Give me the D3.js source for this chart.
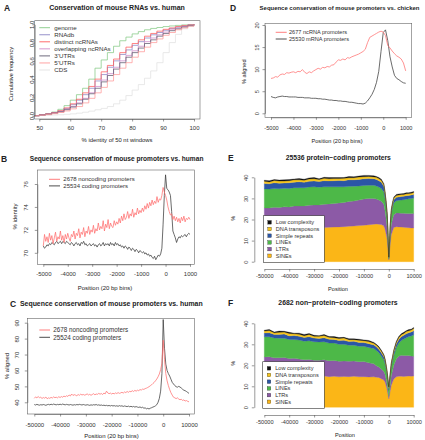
<!DOCTYPE html>
<html><head><meta charset="utf-8">
<script src="https://cdn.jsdelivr.net/npm/d3@7"></script>
<style>body{margin:0;background:#fff}svg{display:block}</style>
</head><body><svg id="chart" width="425" height="440"></svg>
<script>
// ---------------- DATA ----------------
// Panel A: cumulative frequency vs % identity of 50 nt windows
const identA = [48,50,52,54,56,58,60,62,64,66,68,70,72,74,76,78,80,82,84,86,88,90,92,94,96,98,100];
const namesA = ["genome","RNAdb","distinct ncRNAs","overlapping ncRNAs","3'UTRs","5'UTRs","CDS"];
const colorsA = ["#86c986","#8a84c4","#ff5c5c","#d08ac8","#5e5a6e","#ff9a9a","#e2e2e2"];
const genomeA = [0,0.01,0.02,0.04,0.07,0.11,0.17,0.23,0.30,0.40,0.52,0.61,0.69,0.76,0.82,0.86,0.895,0.92,0.94,0.955,0.965,0.975,0.982,0.988,0.993,0.997,1.0];
const rnadbA = [0,0.01,0.02,0.035,0.05,0.08,0.12,0.17,0.23,0.30,0.38,0.45,0.53,0.60,0.67,0.72,0.77,0.81,0.85,0.885,0.91,0.935,0.955,0.97,0.982,0.992,1];
const distinctA = [0,0.01,0.02,0.035,0.055,0.085,0.13,0.18,0.25,0.32,0.40,0.48,0.55,0.62,0.69,0.75,0.79,0.83,0.87,0.90,0.925,0.945,0.96,0.975,0.985,0.993,1];
const overlapA = [0,0.008,0.016,0.03,0.045,0.07,0.10,0.14,0.19,0.25,0.32,0.39,0.46,0.53,0.60,0.66,0.71,0.76,0.81,0.85,0.885,0.915,0.94,0.96,0.975,0.99,1];
const utr3A = [0,0.008,0.016,0.028,0.042,0.065,0.095,0.13,0.18,0.24,0.30,0.37,0.44,0.51,0.58,0.64,0.69,0.74,0.79,0.83,0.87,0.90,0.93,0.95,0.97,0.985,1];
const utr5A = [0,0.006,0.012,0.022,0.035,0.052,0.075,0.10,0.14,0.19,0.25,0.31,0.38,0.45,0.52,0.58,0.64,0.70,0.75,0.80,0.84,0.88,0.91,0.94,0.96,0.98,1];
const cdsA = [0,0.002,0.004,0.007,0.01,0.015,0.02,0.028,0.038,0.05,0.065,0.08,0.10,0.13,0.17,0.22,0.28,0.34,0.41,0.49,0.58,0.69,0.80,0.89,0.95,0.98,1];
const ticksAx = [50,60,70,80,90,100];
const ticksAy = [0,0.2,0.4,0.6,0.8,1.0];

// Panel B: % identity, -5000..1000 (50 bp steps)
const posB = d3.range(-5000, 1001, 50);
const noncodingB = [70.6,71.6,71.0,71.4,70.9,71.7,71.1,71.5,70.8,71.3,71.8,71.0,71.4,71.2,71.9,71.1,71.5,70.9,71.6,71.2,71.7,
 71.3,71.0,71.6,71.4,71.9,71.2,71.7,71.5,72.1,71.3,71.8,71.6,72.2,71.4,71.9,71.7,72.3,71.6,72.0,71.8,
 72.4,71.7,72.1,71.9,72.6,72.0,72.3,72.1,72.8,71.9,72.5,72.2,72.9,72.1,72.6,72.3,72.2,72.8,72.4,72.7,
 72.5,73.0,72.6,73.2,72.8,73.4,72.9,73.1,73.6,73.0,73.4,73.2,73.8,73.1,73.5,73.3,73.9,73.4,73.7,73.5,
 73.9,73.6,74.1,73.8,74.3,73.9,74.4,74.1,74.6,74.2,74.5,74.3,74.9,74.4,74.7,74.6,75.0,75.7,
 75.3,75.0,74.6,74.0,73.6,73.3,73.4,72.9,73.2,72.8,73.1,72.7,73.0,72.6,73.1,72.8,73.2,72.7,73.0,72.9,73.1,72.9];
const codingB = [70.6,70.4,70.5,70.7,70.6,70.8,70.7,70.9,70.8,70.7,70.9,71.0,70.8,70.9,71.0,70.8,71.0,70.9,70.8,71.0,70.9,
 70.8,70.7,70.9,70.8,70.6,70.8,70.9,70.7,70.8,70.6,70.9,70.8,71.0,70.7,70.8,70.6,70.7,70.8,70.6,70.7,
 70.8,70.6,70.7,70.5,70.7,70.8,70.6,70.7,70.9,70.6,70.8,70.7,70.8,70.6,70.9,70.7,70.8,70.6,70.9,70.7,
 70.8,70.6,70.7,70.5,70.6,70.4,70.6,70.5,70.3,70.5,70.4,70.2,70.4,70.3,70.1,70.3,70.2,70.0,70.2,70.1,
 70.0,70.1,69.9,70.0,69.8,69.9,69.7,69.8,69.6,69.5,69.7,69.4,69.6,69.8,69.7,69.9,70.4,72.5,
 75.0,76.8,75.6,75.5,75.3,75.0,73.6,71.9,71.6,71.3,70.9,71.2,71.4,71.3,71.5,71.4,71.5,71.6,71.4,71.6,71.7,71.6];
const ticksBx = [-5000,-4000,-3000,-2000,-1000,0,1000];
const ticksBy = [70,72,74,76];

// Panel C: % aligned, -50000..10000 (500 bp steps)
const posC = d3.range(-50000, 10001, 500);
const noncodingC = [42.5,43.4,42.8,43.6,42.9,43.2,42.4,43.0,42.6,43.3,42.2,42.8,42.5,43.1,42.7,43.4,42.9,43.2,42.8,43.5,
 43.0,43.6,43.2,43.9,43.5,44.1,43.7,44.6,44.0,45.2,44.3,44.8,44.5,44.1,44.9,44.4,45.1,44.6,44.9,44.5,
 44.8,45.3,44.6,45.0,44.4,44.9,45.4,44.7,45.2,45.0,45.6,45.1,45.5,44.9,45.8,45.3,47.0,45.9,45.4,45.8,
 45.2,45.7,45.3,45.9,45.5,46.1,45.6,45.9,46.3,45.8,46.5,46.1,46.8,46.3,46.9,46.6,47.3,46.8,47.5,47.0,
 47.6,47.3,48.0,47.7,48.3,48.1,48.6,48.9,49.3,49.8,50.4,51.0,51.8,52.5,53.5,54.6,56.0,57.8,60.5,64.5,
 79.0,
 67.0,58.0,53.5,50.5,48.0,46.0,44.5,43.2,42.8,42.3,42.8,42.1,41.6,41.9,41.2,41.5,40.8,41.1,40.6,40.3];
const codingC = [38.6,38.3,38.7,38.4,38.2,38.5,38.3,38.6,38.4,38.1,38.5,38.7,38.4,38.8,38.5,38.9,38.6,38.4,38.7,38.5,
 38.8,38.5,38.9,38.6,38.4,38.7,38.5,38.3,38.6,38.4,38.2,38.5,38.3,38.6,38.4,38.7,38.5,38.3,38.6,38.4,
 38.2,38.5,38.3,38.1,38.4,38.2,38.5,38.3,38.6,38.2,38.4,38.1,38.3,38.0,38.2,37.9,38.1,37.8,38.0,37.7,
 38.0,37.7,37.9,37.6,37.8,37.5,37.9,37.6,37.8,37.4,37.7,37.5,37.3,37.6,37.2,37.5,37.1,37.4,37.0,37.3,
 37.0,36.8,37.1,36.6,36.9,36.3,36.5,35.9,36.2,35.8,36.3,36.6,37.0,37.3,37.8,38.5,40.0,42.5,47.0,58.0,
 92.0,
 74.0,64.0,60.0,58.0,56.5,54.5,52.5,51.5,50.5,49.8,49.5,50.0,49.6,49.0,48.2,47.6,47.3,46.8,46.2,45.6];
const ticksCx = [-50000,-40000,-30000,-20000,-10000,0,10000];
const ticksCy = [40,50,60,70,80,90];

// Panel D: % aligned vs chicken, -5000..1000 (100 bp steps)
const posD = d3.range(-5000, 1001, 100);
const ncrnaD = [7.9,8.0,8.3,8.2,8.7,8.9,8.8,9.2,9.1,9.3,9.4,
 9.2,9.5,9.4,9.9,9.3,9.0,9.4,9.2,9.6,9.9,
 10.2,10.0,10.4,10.3,10.6,10.5,10.9,11.0,11.6,12.1,
 12.0,12.3,12.1,12.6,12.5,12.8,13.0,13.2,13.4,13.7,
 14.0,14.5,16.0,17.2,17.5,17.8,18.1,18.4,18.6,18.4,
 17.6,15.4,14.8,14.1,13.5,13.0,12.7,12.3,11.4,9.6];
const mrnaD = [3.8,3.6,3.5,3.7,3.8,3.9,3.8,3.8,3.7,3.7,3.7,
 3.7,3.6,3.6,3.6,3.5,3.5,3.5,3.4,3.4,3.4,
 3.3,3.3,3.2,3.2,3.1,3.0,3.0,2.9,2.9,2.8,
 2.8,2.7,2.7,2.6,2.5,2.5,2.4,2.3,2.2,2.2,
 2.1,2.3,2.8,3.5,4.3,5.4,7.0,9.5,14.0,18.3,
 18.9,16.5,12.8,10.5,8.6,7.9,7.6,7.2,6.9,6.8];
const ticksDx = [-5000,-4000,-3000,-2000,-1000,0,1000];
const ticksDy = [0,5,10,15,20];

// Panels E/F: repeat composition (%), stacked
const posEF = [-50000,-48000,-46000,-44000,-42000,-40000,-38000,-36000,-34000,-32000,-30000,-28000,-26000,-24000,-22000,-20000,-18000,-16000,-14000,-12000,-10000,-8000,-6000,-5000,-4000,-3000,-2000,-1500,-1000,-600,-300,0,300,600,1000,1500,2000,3000,4000,5000,6000,7000,8000,9000,10000];
const repeatKeys = ["SINEs","LTRs","LINEs","Simple repeats","DNA transposons","Low complexity"];
const repeatColors = ["#fbb617","#8c5aa6","#4db848","#2b56a6","#f6c51d","#111111"];
const sinesE = [16.2,16.0,16.3,16.1,16.2,16.0,16.3,16.1,16.0,16.2,16.1,16.0,16.2,16.3,16.4,16.5,16.6,16.8,16.9,17.1,17.3,17.5,17.8,17.9,17.8,17.6,17.0,15.4,12.8,10.0,5.5,0.8,4.5,9.0,12.8,14.5,16.2,16.6,16.5,16.4,16.3,16.2,16.1,16.0,16.0];
const ltrsE = [9.3,9.4,9.5,9.6,9.8,9.9,10.1,10.3,10.4,10.6,10.8,10.9,11.0,11.1,11.2,11.3,11.5,11.7,11.9,12.1,12.4,12.5,12.2,11.8,11.4,11.0,10.2,8.7,7.0,5.5,2.8,0.4,2.0,3.6,4.8,5.6,6.0,6.5,6.6,6.6,6.7,6.7,6.8,6.8,6.9];
const linesE = [9.0,9.0,8.9,8.9,8.8,8.8,8.7,8.7,8.6,8.6,8.6,8.4,8.3,8.1,7.9,7.7,7.4,7.2,7.0,6.7,6.4,6.2,6.2,6.2,6.2,6.1,5.9,5.6,5.0,4.2,2.8,0.5,1.8,3.6,4.8,5.4,5.6,5.8,6.0,6.2,6.4,6.7,6.9,7.1,7.3];
const simpleE = [2.6,2.5,2.7,2.6,2.5,2.7,2.6,2.8,2.6,2.7,2.8,2.7,2.9,2.8,2.9,3.0,2.9,3.1,3.0,3.1,3.2,3.2,3.1,3.1,3.0,3.0,2.7,2.4,2.0,1.6,1.0,0.3,0.8,1.2,1.4,1.5,1.6,1.7,1.6,1.7,1.6,1.7,1.6,1.7,1.7];
const dnaE = [1.0,0.9,1.1,1.0,0.9,1.0,1.1,0.9,1.0,1.1,1.0,0.9,1.1,1.0,1.0,0.9,1.1,1.0,1.0,1.1,1.0,1.0,0.9,1.0,1.0,0.9,0.8,0.7,0.6,0.5,0.4,0.1,0.3,0.5,0.6,0.7,0.8,0.8,0.9,0.9,0.8,0.9,0.9,0.8,0.9];
const lowE = [0.5,0.6,0.4,0.5,0.6,0.5,0.4,0.6,0.5,0.5,0.6,0.4,0.5,0.6,0.5,0.5,0.4,0.6,0.5,0.5,0.6,0.5,0.5,0.4,0.5,0.5,0.4,0.4,0.4,0.3,0.2,0.1,0.2,0.3,0.4,0.4,0.4,0.5,0.5,0.4,0.5,0.5,0.4,0.5,0.5];
const sinesF = [14.6,14.8,14.5,14.7,14.9,14.6,14.8,14.7,14.5,14.8,14.6,14.7,14.9,14.6,14.8,14.5,14.7,14.6,14.8,14.5,14.6,14.4,14.5,14.3,14.2,13.6,13.0,12.0,10.0,8.0,6.0,4.0,6.0,8.0,10.5,12.0,13.5,14.5,14.8,14.8,14.7,14.8,14.9,14.8,14.9];
const ltrsF = [9.4,9.3,9.1,8.9,8.8,8.6,8.5,8.3,8.1,8.0,7.8,7.7,7.7,7.6,7.5,7.4,7.4,7.3,7.3,7.2,7.2,6.8,6.2,5.5,5.0,4.6,4.0,3.6,3.0,2.4,1.8,1.2,2.2,3.0,4.5,5.5,6.5,8.5,9.5,10.0,10.0,9.9,9.8,9.6,9.4];
const linesF = [9.6,9.5,9.4,9.3,9.2,9.1,9.0,9.0,8.9,8.9,8.8,8.7,8.6,8.4,8.3,8.1,7.9,7.7,7.5,7.4,7.3,7.3,7.3,7.3,6.9,6.2,5.6,5.0,4.6,4.0,3.5,3.0,3.2,3.5,4.0,4.3,4.6,5.5,6.3,7.0,7.8,8.4,9.0,9.6,10.2];
const simpleF = [1.8,1.9,1.7,1.8,2.0,1.7,1.9,1.8,1.7,1.9,1.8,1.7,1.9,1.8,1.7,1.8,1.9,1.7,1.8,1.8,1.7,1.8,1.7,1.7,1.6,1.6,1.5,1.4,1.3,1.2,1.0,0.9,1.0,1.2,1.3,1.4,1.5,1.6,1.7,1.8,1.8,1.9,1.8,1.9,1.9];
const dnaF = [0.9,1.1,0.8,1.0,0.9,1.2,0.8,1.0,0.9,1.1,0.8,1.0,1.1,0.9,0.8,1.0,1.1,0.9,0.8,1.0,0.9,1.0,0.8,0.9,0.8,0.8,0.7,0.7,0.6,0.6,0.5,0.4,0.5,0.6,0.6,0.7,0.8,0.8,0.9,1.0,0.9,1.1,1.0,0.9,1.1];
const lowF = [0.4,0.5,0.3,0.6,0.4,0.5,0.3,0.5,0.6,0.4,0.5,0.3,0.5,0.4,0.6,0.4,0.3,0.5,0.4,0.5,0.4,0.5,0.4,0.3,0.4,0.4,0.3,0.4,0.3,0.3,0.3,0.3,0.3,0.3,0.4,0.3,0.4,0.4,0.5,0.4,0.5,0.4,0.5,0.4,0.5];
const ticksEFx = [-50000,-40000,-30000,-20000,-10000,0,10000];
const ticksEFy = [0,10,20,30,40];

// ---------------- DRAWING ----------------
const FF = '"Liberation Sans", Arial, Helvetica, sans-serif';
const svg = d3.select("#chart");
const RED = "#ff6f6f", BLK = "#3a3a3a";

function txt(x, y, s, o = {}) {
  const t = svg.append("text").attr("x", x).attr("y", y).text(s)
    .attr("font-family", FF).attr("font-size", o.size || 6)
    .attr("fill", o.fill || "#222").attr("text-anchor", o.anchor || "middle");
  if (o.bold) t.attr("font-weight", "bold");
  if (o.dy) t.attr("dy", o.dy);
  if (o.len) {
    // choose the font size whose natural width matches the target width
    const w = t.node().getComputedTextLength();
    if (w > 0) t.attr("font-size", (o.size || 6) * o.len / w);
  }
  if (o.rot) t.attr("transform", `rotate(-90,${x},${y})`);
  return t;
}
function xAxis(scale, y, ticks, labOff, size) {
  const g = svg.append("g").attr("transform", `translate(0,${y})`)
    .call(d3.axisBottom(scale).tickValues(ticks).tickSize(2.5).tickSizeOuter(0).tickFormat(d => String(d)));
  g.select(".domain").attr("stroke", "#555").attr("stroke-width", 0.6);
  g.selectAll(".tick line").attr("stroke", "#555").attr("stroke-width", 0.6);
  g.selectAll(".tick text").attr("y", labOff).attr("dy", "0.35em")
    .attr("font-size", size || 6).attr("font-family", FF).attr("fill", "#333");
}
function yAxis(scale, x, ticks, labOff, fmt, size) {
  const g = svg.append("g").attr("transform", `translate(${x},0)`)
    .call(d3.axisLeft(scale).tickValues(ticks).tickSize(2.5).tickSizeOuter(0).tickFormat(fmt || (d => String(d))));
  g.select(".domain").attr("stroke", "#555").attr("stroke-width", 0.6);
  g.selectAll(".tick line").attr("stroke", "#555").attr("stroke-width", 0.6);
  g.selectAll(".tick text").attr("x", 0).attr("y", 0).attr("dy", "0.35em")
    .attr("text-anchor", "middle").attr("transform", `rotate(-90) translate(0,${-labOff})`)
    .attr("font-size", size || 6).attr("font-family", FF).attr("fill", "#333");
}
function box(b) {
  svg.append("rect").attr("x", b.x0).attr("y", b.y0).attr("width", b.x1 - b.x0).attr("height", b.y1 - b.y0)
    .attr("fill", "none").attr("stroke", "#666").attr("stroke-width", 0.6);
}
let clipId = 0;
function clip(b) {
  const id = "clip" + (clipId++);
  svg.append("clipPath").attr("id", id).append("rect")
    .attr("x", b.x0).attr("y", b.y0).attr("width", b.x1 - b.x0).attr("height", b.y1 - b.y0);
  return `url(#${id})`;
}
function drawLine(xs, ys, x, y, color, clipUrl, curve) {
  const line = d3.line().x((d, i) => x(xs[i])).y(d => y(d)).curve(curve || d3.curveLinear);
  svg.append("path").datum(ys).attr("d", line).attr("fill", "none")
    .attr("stroke", color).attr("stroke-width", 0.75).attr("clip-path", clipUrl);
}
function lineLegend(x0, x1, tx, ys, labels, colors, size) {
  labels.forEach((l, i) => {
    svg.append("line").attr("x1", x0).attr("x2", x1).attr("y1", ys[i]).attr("y2", ys[i])
      .attr("stroke", colors[i]).attr("stroke-width", 0.9);
    txt(tx, ys[i], l, { anchor: "start", size: size, dy: "0.35em", fill: "#333" });
  });
}

// ---- Panel A ----
{
  const b = { x0: 34.7, x1: 200, y0: 20.7, y1: 119 };
  const x = d3.scaleLinear().domain([50, 100]).range([39.3, 194]);
  const y = d3.scaleLinear().domain([0, 1]).range([115.7, 24.3]);
  const cu = clip(b);
  const seriesA = [genomeA, rnadbA, distinctA, overlapA, utr3A, utr5A, cdsA];
  [6, 0, 1, 2, 3, 4, 5].forEach(k => drawLine(identA, seriesA[k], x, y, colorsA[k], cu, d3.curveStepAfter));
  box(b);
  xAxis(x, b.y1, ticksAx, 9);
  yAxis(y, b.x0, ticksAy, 3.2, d3.format(".1f"));
  lineLegend(39.3, 50, 54.3, namesA.map((d, i) => 27.7 + 7.05 * i), namesA, colorsA, 6.2);
  txt(117, 10, "Conservation of mouse RNAs vs. human", { bold: true, size: 7, len: 136 });
  txt(4, 10.7, "A", { bold: true, size: 8.5, anchor: "start" });
  txt(117, 140, "% identity of 50 nt windows", { size: 6, dy: "0.35em", len: 71 });
  txt(11, 74, "Cumulative frequency", { size: 6, rot: true, dy: "0.35em", len: 54 });
}

// ---- Panel B ----
{
  const b = { x0: 37.3, x1: 194.3, y0: 170, y1: 264.3 };
  const x = d3.scaleLinear().domain([-5000, 1000]).range([43.3, 190]);
  const y = d3.scaleLinear().domain([70, 76]).range([252.8, 184]);
  const cu = clip(b);
  drawLine(posB, codingB, x, y, BLK, cu);
  drawLine(posB, noncodingB, x, y, RED, cu);
  box(b);
  xAxis(x, b.y1, ticksBx, 9.5);
  yAxis(y, b.x0, ticksBy, 11);
  lineLegend(49, 60, 63.3, [179.3, 185.9], ["2678 noncoding promoters", "25534 coding promoters"], [RED, BLK], 6);
  txt(116.6, 161.3, "Sequence conservation of mouse promoters vs. human", { bold: true, size: 7, len: 174 });
  txt(1, 161.7, "B", { bold: true, size: 8.5, anchor: "start" });
  txt(105, 287.5, "Position (20 bp bins)", { size: 6, dy: "0.35em" });
  txt(15, 216.5, "% identity", { size: 6, rot: true, dy: "0.35em" });
}

// ---- Panel C ----
{
  const b = { x0: 27.3, x1: 194.3, y0: 318.3, y1: 414 };
  const x = d3.scaleLinear().domain([-50000, 10000]).range([34.3, 189]);
  const y = d3.scaleLinear().domain([40, 90]).range([402.3, 322.7]);
  const cu = clip(b);
  drawLine(posC, codingC, x, y, BLK, cu);
  drawLine(posC, noncodingC, x, y, RED, cu);
  box(b);
  xAxis(x, b.y1, ticksCx, 11);
  yAxis(y, b.x0, ticksCy, 10);
  lineLegend(39.3, 50, 53.3, [330, 337.3], ["2678 noncoding promoters", "25524 coding promoters"], [RED, BLK], 6.3);
  txt(111.3, 306.3, "Sequence conservation of mouse promoters vs. human", { bold: true, size: 7, len: 183 });
  txt(10, 306.7, "C", { bold: true, size: 8.5, anchor: "start" });
  txt(111.5, 435.5, "Position (20 bp bins)", { size: 6, dy: "0.35em" });
  txt(6.5, 366, "% aligned", { size: 6, rot: true, dy: "0.35em" });
}

// ---- Panel D ----
{
  const b = { x0: 265, x1: 411.7, y0: 23.3, y1: 117.3 };
  const x = d3.scaleLinear().domain([-5000, 1000]).range([271, 405.7]);
  const y = d3.scaleLinear().domain([0, 20]).range([113.3, 25]);
  const cu = clip(b);
  drawLine(posD, mrnaD, x, y, BLK, cu);
  drawLine(posD, ncrnaD, x, y, RED, cu);
  box(b);
  xAxis(x, b.y1, ticksDx, 10.4, 5.6);
  yAxis(y, b.x0, ticksDy, 8.3, null, 5.6);
  lineLegend(275.7, 286.7, 289, [32.3, 39], ["2677 ncRNA promoters", "25530 mRNA promoters"], [RED, BLK], 5.6);
  txt(339.5, 10, "Sequence conservation of mouse promoters vs. chicken", { bold: true, size: 6.5, len: 160 });
  txt(230, 10.7, "D", { bold: true, size: 8.5, anchor: "start" });
  txt(337, 141.3, "Position (20 bp bins)", { size: 5.6, dy: "0.35em" });
  txt(244.5, 71.7, "% aligned", { size: 5.6, rot: true, dy: "0.35em" });
}

// ---- Panels E / F ----
function stackPanel(o) {
  const rows = posEF.map((p, i) => {
    const r = { pos: p };
    repeatKeys.forEach((k, j) => r[k] = o.layers[j][i]);
    return r;
  });
  const stacked = d3.stack().keys(repeatKeys)(rows);
  const x = d3.scaleLinear().domain([-50000, 10000]).range([264.3, 413.7]);
  const y = d3.scaleLinear().domain([0, 40]).range([o.y0, o.y40]);
  const area = d3.area().x(d => x(d.data.pos)).y0(d => y(d[0])).y1(d => y(d[1]));
  svg.append("g").selectAll("path").data(stacked).join("path")
    .attr("d", area).attr("fill", (d, i) => repeatColors[i])
    .attr("stroke", (d, i) => repeatColors[i]).attr("stroke-width", 0.3);
  xAxis(x, o.xAxisY, ticksEFx, o.xLabOff, 5.6);
  yAxis(y, 254.3, ticksEFy, 8.6, null, 5.6);
  // legend
  const lb = o.legend;
  svg.append("rect").attr("x", lb.x0).attr("y", lb.y0).attr("width", lb.x1 - lb.x0).attr("height", lb.y1 - lb.y0)
    .attr("fill", "#fff").attr("stroke", "#333").attr("stroke-width", 0.6);
  const order = [5, 4, 3, 2, 1, 0];
  const names = ["Low complexity", "DNA transposons", "Simple repeats", "LINEs", "LTRs", "SINEs"];
  order.forEach((k, i) => {
    const yy = lb.first + 6.7 * i;
    svg.append("rect").attr("x", lb.x0 + 4.5).attr("y", yy - 1.8).attr("width", 3.6).attr("height", 3.6)
      .attr("fill", repeatColors[k]).attr("stroke", "#222").attr("stroke-width", 0.3);
    txt(lb.x0 + 12.5, yy, names[i], { anchor: "start", size: 5.6, dy: "0.35em", fill: "#333" });
  });
  txt(o.tx, o.ty, o.title, { bold: true, size: 6.8, len: o.tlen });
  txt(228, o.ty + 0.7, o.letter, { bold: true, size: 8.5, anchor: "start" });
  txt(o.px, o.py, "Position", { size: 5.6, dy: "0.35em" });
  txt(233.5, o.pctY, "%", { size: 5.6, rot: true, dy: "0.35em" });
}
stackPanel({
  layers: [sinesE, ltrsE, linesE, simpleE, dnaE, lowE], y0: 261.7, y40: 177.3, xAxisY: 269, xLabOff: 7,
  legend: { x0: 263.3, x1: 324.3, y0: 215.7, y1: 262.3, first: 222.3 },
  title: "25536 protein\u2212coding promoters", tx: 338.3, ty: 160.3, tlen: 105.3, letter: "E",
  px: 338, py: 289, pctY: 218.3
});
stackPanel({
  layers: [sinesF, ltrsF, linesF, simpleF, dnaF, lowF], y0: 407.3, y40: 323.3, xAxisY: 415, xLabOff: 6.7,
  legend: { x0: 262.7, x1: 324.3, y0: 361.7, y1: 408.3, first: 368.3 },
  title: "2682 non\u2212protein\u2212coding promoters", tx: 338, ty: 305.3, tlen: 119.3, letter: "F",
  px: 345, py: 435, pctY: 363.3
});
</script>
</body></html>
